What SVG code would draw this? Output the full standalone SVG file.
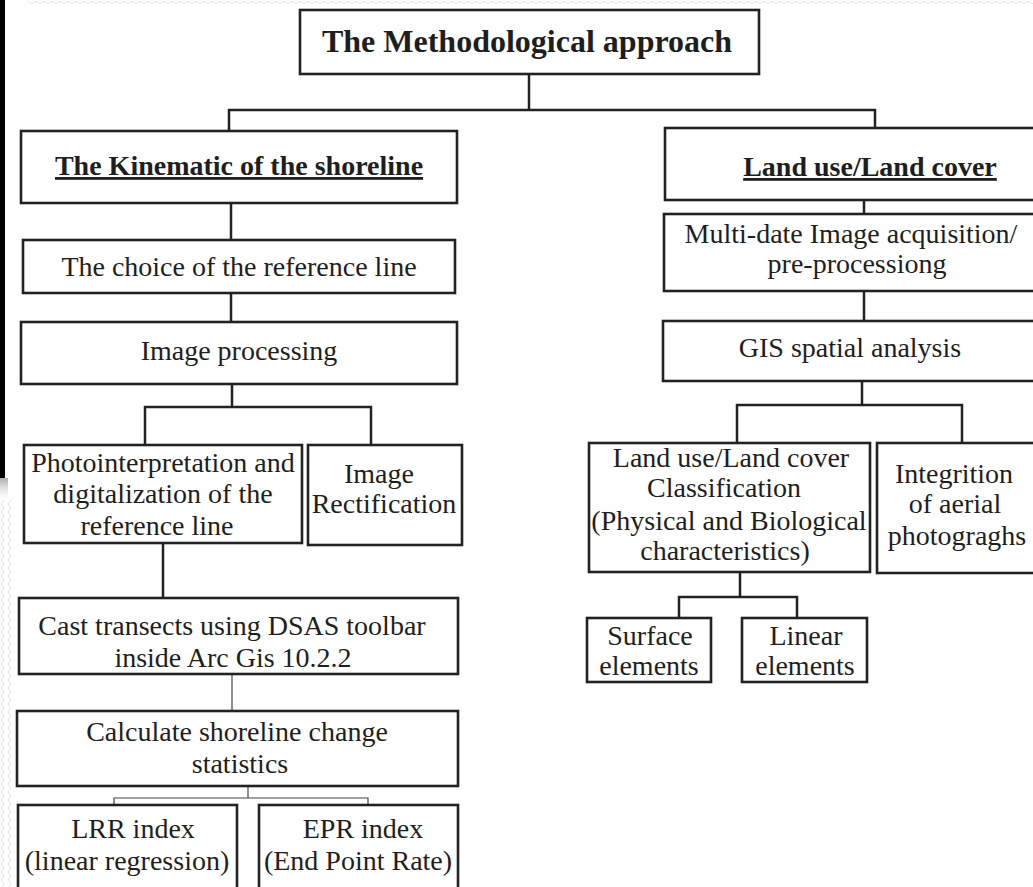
<svg xmlns="http://www.w3.org/2000/svg" width="1033" height="887" viewBox="0 0 1033 887">
  <defs>
    <style>
      .box { fill: #ffffff; stroke: #222222; stroke-width: 2.6; }
      .t { font-family: "Liberation Serif", "Times New Roman", serif; font-size: 28px; fill: #1e1e1e; text-anchor: middle; }
      .b { font-weight: bold; }
      .u { text-decoration: underline; }
      .title { font-size: 32px; }
      .con { fill: none; stroke: #222222; stroke-width: 2.5; }
      .thin { fill: none; stroke: #444444; stroke-width: 1.2; }
      .deco { fill: none; stroke: #e4e4e4; stroke-width: 1; }
    </style>
    <linearGradient id="shade" x1="0" y1="0" x2="0" y2="1">
      <stop offset="0" stop-color="#888888" stop-opacity="0.7"/>
      <stop offset="1" stop-color="#ffffff" stop-opacity="0"/>
    </linearGradient>
    <pattern id="zigH" width="8" height="6" patternUnits="userSpaceOnUse">
      <polyline class="deco" points="0,4 4,1 8,4"/>
    </pattern>
    <pattern id="zigV" width="16" height="8" patternUnits="userSpaceOnUse">
      <polyline class="deco" points="1,0 4,4 1,8"/>
      <polyline class="deco" points="8,0 11,4 8,8"/>
    </pattern>
  </defs>

  <rect width="1033" height="887" fill="#ffffff"/>

  <!-- background decoration -->
  <g id="decoration">
    <rect x="28" y="0" width="1005" height="6" fill="url(#zigH)"/>
    <rect x="0" y="500" width="16" height="387" fill="url(#zigV)"/>
    <rect x="0" y="0" width="5" height="478" fill="#000000"/>
    <rect x="0" y="478" width="8" height="26" fill="url(#shade)"/>
  </g>

  <!-- connectors -->
  <g id="connectors">
    <polyline class="con" points="529,74 529,110"/>
    <polyline class="con" points="229,131 229,110 875,110 875,128"/>
    <polyline class="con" points="231,203 231,240"/>
    <polyline class="con" points="231,293 231,322"/>
    <polyline class="con" points="232,384 232,407"/>
    <polyline class="con" points="145,445 145,407 371,407 371,445"/>
    <polyline class="con" points="163,543 163,598"/>
    <polyline class="thin" points="232,674 232,711"/>
    <polyline class="thin" points="248,786 248,798"/>
    <polyline class="thin" points="114,805 114,798 368,798 368,805"/>
    <polyline class="con" points="864,200 864,214"/>
    <polyline class="con" points="864,291 864,321"/>
    <polyline class="con" points="862,381 862,405"/>
    <polyline class="con" points="737,443 737,405 962,405 962,443"/>
    <polyline class="con" points="740,572 740,597"/>
    <polyline class="con" points="679,618 679,597 797,597 797,618"/>
  </g>

  <g id="n-title">
    <rect class="box" x="300" y="10" width="459" height="64"/>
    <text class="t b title" x="527" y="52">The Methodological approach</text>
  </g>

  <g id="n-kinematic">
    <rect class="box" x="21" y="131" width="436" height="72"/>
    <text class="t b u" x="239" y="175">The Kinematic of the shoreline</text>
  </g>

  <g id="n-choice">
    <rect class="box" x="23" y="240" width="432" height="53"/>
    <text class="t" x="239" y="276">The choice of the reference line</text>
  </g>

  <g id="n-imgproc">
    <rect class="box" x="21" y="322" width="436" height="62"/>
    <text class="t" x="239" y="360">Image processing</text>
  </g>

  <g id="n-photo">
    <rect class="box" x="24" y="445" width="278" height="98"/>
    <text class="t" x="163" y="472">Photointerpretation and</text>
    <text class="t" x="163" y="503">digitalization of the</text>
    <text class="t" x="157" y="535">reference line</text>
  </g>

  <g id="n-rect">
    <rect class="box" x="308" y="445" width="154" height="100"/>
    <text class="t" x="379" y="483">Image</text>
    <text class="t" x="384" y="513">Rectification</text>
  </g>

  <g id="n-cast">
    <rect class="box" x="19" y="598" width="439" height="76"/>
    <text class="t" x="232" y="635">Cast transects using DSAS toolbar</text>
    <text class="t" x="233" y="667">inside Arc Gis 10.2.2</text>
  </g>

  <g id="n-calc">
    <rect class="box" x="17" y="711" width="441" height="75"/>
    <text class="t" x="237" y="741">Calculate shoreline change</text>
    <text class="t" x="240" y="773">statistics</text>
  </g>

  <g id="n-lrr">
    <rect class="box" x="18" y="805" width="219" height="100"/>
    <text class="t" x="133" y="838">LRR index</text>
    <text class="t" x="127" y="870">(linear regression)</text>
  </g>

  <g id="n-epr">
    <rect class="box" x="259" y="805" width="199" height="100"/>
    <text class="t" x="363" y="838">EPR index</text>
    <text class="t" x="358" y="870">(End Point Rate)</text>
  </g>

  <g id="n-landuse">
    <rect class="box" x="665" y="128" width="380" height="72"/>
    <text class="t b u" x="870" y="176">Land use/Land cover</text>
  </g>

  <g id="n-multidate">
    <rect class="box" x="664" y="214" width="381" height="77"/>
    <text class="t" x="851" y="243">Multi-date Image acquisition/</text>
    <text class="t" x="857" y="273">pre-processiong</text>
  </g>

  <g id="n-gis">
    <rect class="box" x="663" y="321" width="382" height="60"/>
    <text class="t" x="850" y="357">GIS spatial analysis</text>
  </g>

  <g id="n-lulc">
    <rect class="box" x="589" y="443" width="281" height="129"/>
    <text class="t" x="731" y="467">Land use/Land cover</text>
    <text class="t" x="724" y="497">Classification</text>
    <text class="t" x="729" y="530">(Physical and Biological</text>
    <text class="t" x="725" y="560">characteristics)</text>
  </g>

  <g id="n-aerial">
    <rect class="box" x="877" y="443" width="168" height="130"/>
    <text class="t" x="954" y="483">Integrition</text>
    <text class="t" x="955" y="513">of aerial</text>
    <text class="t" x="957" y="545">photograghs</text>
  </g>

  <g id="n-surface">
    <rect class="box" x="587" y="618" width="124" height="64"/>
    <text class="t" x="650" y="645">Surface</text>
    <text class="t" x="649" y="675">elements</text>
  </g>

  <g id="n-linear">
    <rect class="box" x="742" y="618" width="125" height="64"/>
    <text class="t" x="806" y="645">Linear</text>
    <text class="t" x="805" y="675">elements</text>
  </g>
</svg>
